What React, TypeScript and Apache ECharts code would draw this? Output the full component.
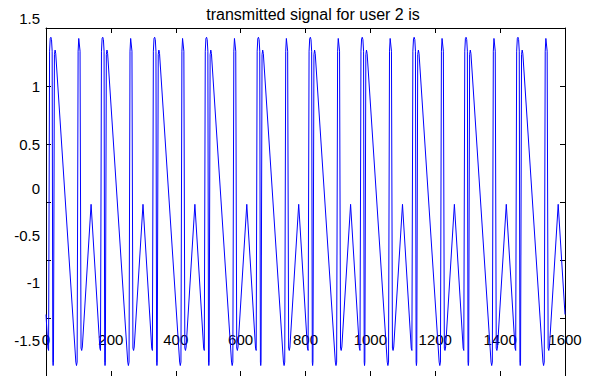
import React, { useEffect, useRef } from "react";
import * as echarts from "echarts";

const titleText = "transmitted signal for user 2 is";

const xTickLabels = ["0", "200", "400", "600", "800", "1000", "1200", "1400", "1600"];
const yTickLabels = ["-1.5", "-1", "-0.5", "0", "0.5", "1", "1.5"];

const sampleIndex = [
  0,
  6, 8, 11, 13, 15, 17, 19, 21, 22, 23, 26, 28, 30, 92, 94, 96, 99, 101, 103, 105, 108, 110, 112, 139,
  166, 168, 171, 173, 175, 177, 179, 181, 182, 183, 186, 188, 190, 252, 254, 256, 259, 261, 263, 265, 268, 270, 272, 299,
  326, 328, 331, 333, 335, 337, 339, 341, 342, 343, 346, 348, 350, 412, 414, 416, 419, 421, 423, 425, 428, 430, 432, 459,
  486, 488, 491, 493, 495, 497, 499, 501, 502, 503, 506, 508, 510, 572, 574, 576, 579, 581, 583, 585, 588, 590, 592, 619,
  646, 648, 651, 653, 655, 657, 659, 661, 662, 663, 666, 668, 670, 732, 734, 736, 739, 741, 743, 745, 748, 750, 752, 779,
  806, 808, 811, 813, 815, 817, 819, 821, 822, 823, 826, 828, 830, 892, 894, 896, 899, 901, 903, 905, 908, 910, 912, 939,
  966, 968, 971, 973, 975, 977, 979, 981, 982, 983, 986, 988, 990, 1052, 1054, 1056, 1059, 1061, 1063, 1065, 1068, 1070, 1072, 1099,
  1126, 1128, 1131, 1133, 1135, 1137, 1139, 1141, 1142, 1143, 1146, 1148, 1150, 1212, 1214, 1216, 1219, 1221, 1223, 1225, 1228, 1230, 1232, 1259,
  1286, 1288, 1291, 1293, 1295, 1297, 1299, 1301, 1302, 1303, 1306, 1308, 1310, 1372, 1374, 1376, 1379, 1381, 1383, 1385, 1388, 1390, 1392, 1419,
  1446, 1448, 1451, 1453, 1455, 1457, 1459, 1461, 1462, 1463, 1466, 1468, 1470, 1532, 1534, 1536, 1539, 1541, 1543, 1545, 1548, 1550, 1552, 1579,
  1600,
];

const signalValue = [
  -0.97,
  -1.26, -1.28, 1.3, 1.41, 1.42, 1.4, 1.3, -1.38, -1.41, -1.38, 1.27, 1.31, 1.28, -1.38, -1.41, -1.38, 1.3, 1.41, 1.41, 1.3, -1.26, -1.28, -1.25, -0.02,
  -1.26, -1.28, 1.3, 1.41, 1.42, 1.4, 1.3, -1.38, -1.41, -1.38, 1.27, 1.31, 1.28, -1.38, -1.41, -1.38, 1.3, 1.41, 1.41, 1.3, -1.26, -1.28, -1.25, -0.02,
  -1.26, -1.28, 1.3, 1.41, 1.42, 1.4, 1.3, -1.38, -1.41, -1.38, 1.27, 1.31, 1.28, -1.38, -1.41, -1.38, 1.3, 1.41, 1.41, 1.3, -1.26, -1.28, -1.25, -0.02,
  -1.26, -1.28, 1.3, 1.41, 1.42, 1.4, 1.3, -1.38, -1.41, -1.38, 1.27, 1.31, 1.28, -1.38, -1.41, -1.38, 1.3, 1.41, 1.41, 1.3, -1.26, -1.28, -1.25, -0.02,
  -1.26, -1.28, 1.3, 1.41, 1.42, 1.4, 1.3, -1.38, -1.41, -1.38, 1.27, 1.31, 1.28, -1.38, -1.41, -1.38, 1.3, 1.41, 1.41, 1.3, -1.26, -1.28, -1.25, -0.02,
  -1.26, -1.28, 1.3, 1.41, 1.42, 1.4, 1.3, -1.38, -1.41, -1.38, 1.27, 1.31, 1.28, -1.38, -1.41, -1.38, 1.3, 1.41, 1.41, 1.3, -1.26, -1.28, -1.25, -0.02,
  -1.26, -1.28, 1.3, 1.41, 1.42, 1.4, 1.3, -1.38, -1.41, -1.38, 1.27, 1.31, 1.28, -1.38, -1.41, -1.38, 1.3, 1.41, 1.41, 1.3, -1.26, -1.28, -1.25, -0.02,
  -1.26, -1.28, 1.3, 1.41, 1.42, 1.4, 1.3, -1.38, -1.41, -1.38, 1.27, 1.31, 1.28, -1.38, -1.41, -1.38, 1.3, 1.41, 1.41, 1.3, -1.26, -1.28, -1.25, -0.02,
  -1.26, -1.28, 1.3, 1.41, 1.42, 1.4, 1.3, -1.38, -1.41, -1.38, 1.27, 1.31, 1.28, -1.38, -1.41, -1.38, 1.3, 1.41, 1.41, 1.3, -1.26, -1.28, -1.25, -0.02,
  -1.26, -1.28, 1.3, 1.41, 1.42, 1.4, 1.3, -1.38, -1.41, -1.38, 1.27, 1.31, 1.28, -1.38, -1.41, -1.38, 1.3, 1.41, 1.41, 1.3, -1.26, -1.28, -1.25, -0.02,
  -0.97,
];

// vertical shift (px, upward) of each y tick label, matching the original export
const yLabelShift = [36, 36, 25, 14, 0, 0, 10];

const FONT = "'Liberation Sans', Arial, sans-serif";

export default function App() {
  const ref = useRef<HTMLDivElement>(null);

  useEffect(() => {
    if (!ref.current) return;
    const chart = echarts.init(ref.current, undefined, { renderer: "svg" });

    const rich: Record<string, any> = {};
    yTickLabels.forEach((_, i) => {
      const s = yLabelShift[i];
      rich["s" + i] = {
        fontFamily: FONT,
        fontSize: 15,
        color: "#000",
        padding: s >= 0 ? [0, 0, 2 * s, 0] : [-2 * s, 0, 0, 0],
      };
    });

    const axisCommon = {
      type: "value" as const,
      splitLine: { show: false },
      axisLine: { show: true, onZero: false, lineStyle: { color: "#000", width: 1 } },
      axisTick: { show: true, inside: true, length: 5, lineStyle: { color: "#000" } },
    };

    chart.setOption({
      animation: false,
      backgroundColor: "#ffffff",
      grid: { left: 46, right: 27, top: 28, bottom: -1, containLabel: false },
      graphic: [
        {
          type: "text",
          x: 313,
          y: 14,
          style: {
            text: titleText,
            font: `16px ${FONT}`,
            fill: "#000",
            textAlign: "center",
            textVerticalAlign: "middle",
          },
        },
      ],
      xAxis: [
        {
          ...axisCommon,
          position: "bottom",
          min: 0,
          max: 1600,
          interval: 200,
          axisLabel: {
            show: true,
            inside: true,
            margin: 29,
            fontFamily: FONT,
            fontSize: 15,
            color: "#000",
            formatter: (v: number) => xTickLabels[Math.round(v / 200)] ?? "",
          },
        },
        {
          ...axisCommon,
          position: "top",
          min: 0,
          max: 1600,
          interval: 200,
          axisLabel: { show: false },
        },
      ],
      yAxis: [
        {
          ...axisCommon,
          position: "left",
          min: -1.5,
          max: 1.5,
          interval: 0.5,
          axisLabel: {
            show: true,
            margin: 6,
            fontFamily: FONT,
            fontSize: 15,
            color: "#000",
            rich,
            formatter: (v: number) => {
              const i = Math.round((v + 1.5) / 0.5);
              return `{s${i}|${yTickLabels[i]}}`;
            },
          },
        },
        {
          ...axisCommon,
          position: "right",
          min: -1.5,
          max: 1.5,
          interval: 0.5,
          axisLabel: { show: false },
        },
      ],
      series: [
        {
          type: "line",
          xAxisIndex: 0,
          yAxisIndex: 0,
          data: sampleIndex.map((x, i) => [x, signalValue[i]]),
          symbol: "none",
          lineStyle: { color: "#0000ff", width: 1 },
          clip: false,
        },
      ],
    });

    return () => chart.dispose();
  }, []);

  return (
    <div
      ref={ref}
      style={{ position: "fixed", left: 0, top: 0, width: 592, height: 376, background: "#fff" }}
    />
  );
}
